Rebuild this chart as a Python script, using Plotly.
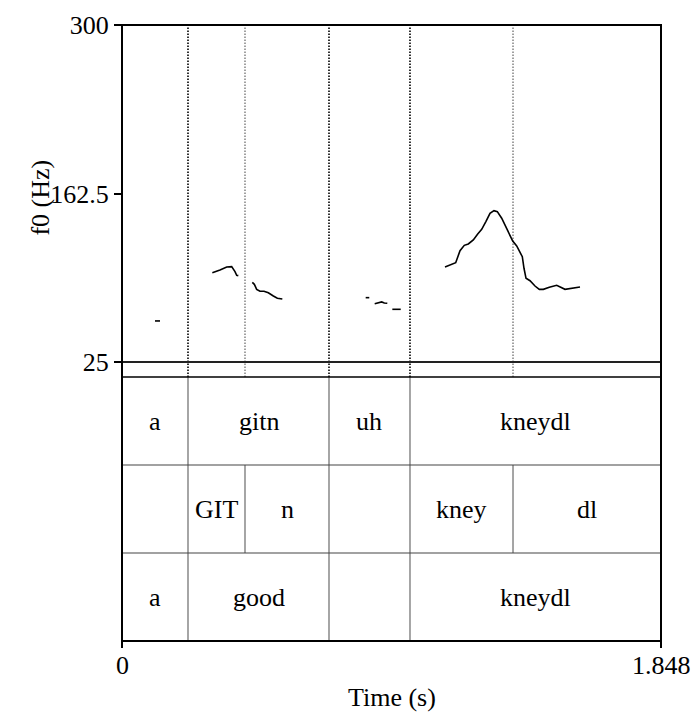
import plotly.graph_objects as go

# ---- data -------------------------------------------------------------
t_start, t_end = 0.0, 1.848
f0_min, f0_max = 25.0, 300.0
f0_ticks = [25, 162.5, 300]
f0_tick_text = ["25", "162.5", "300"]
time_ticks = [0, 1.848]
time_tick_text = ["0", "1.848"]

# pitch contour pieces (time in s, f0 in Hz)
seg1_t = [0.1131, 0.1303]
seg1_f = [58.5, 58.5]
seg2_t = [0.3097, 0.3246, 0.3360, 0.3590, 0.3760, 0.3874, 0.3933, 0.3988]
seg2_f = [97.9, 99.0, 100.0, 102.5, 102.8, 98.7, 95.8, 95.5]
seg3_t = [0.4468, 0.4537, 0.4617, 0.4731, 0.4869, 0.5017, 0.5189, 0.5326, 0.5497]
seg3_f = [90.0, 88.4, 84.3, 82.7, 82.7, 81.5, 78.9, 77.0, 76.4]
seg4_t = [0.8355, 0.8478]
seg4_f = [77.5, 77.5]
seg5_t = [0.8664, 0.8787, 0.8903, 0.8993, 0.9096]
seg5_f = [72.6, 73.1, 74.0, 73.1, 72.9]
seg6_t = [0.9268, 0.9556]
seg6_f = [68.0, 68.0]
seg7_t = [1.1074, 1.1246, 1.1441, 1.1589, 1.1736, 1.1873, 1.2045, 1.2196,
          1.2333, 1.2480, 1.2617, 1.2754, 1.2868, 1.3018, 1.3190, 1.3303,
          1.3396, 1.3533, 1.3646, 1.3725, 1.3783, 1.3852, 1.3989, 1.4160,
          1.4308, 1.4445, 1.4650, 1.4904, 1.5189, 1.5418, 1.5703]
seg7_f = [102.5, 103.9, 106.0, 115.8, 120.2, 121.3, 124.6, 129.5,
          133.3, 139.8, 146.3, 148.5, 147.7, 142.3, 134.1, 128.4,
          123.7, 119.7, 113.7, 110.9, 101.5, 93.3, 91.3, 87.0,
          84.3, 84.3, 86.0, 87.6, 84.3, 85.4, 86.2]

# TextGrid tiers: interval boundaries (s) and labels
tier1_bounds = [0.0, 0.2263, 0.7097, 0.9874, 1.848]
tier1_labels = ["a", "gitn", "uh", "kneydl"]
tier2_bounds = [0.0, 0.2263, 0.4217, 0.7097, 0.9874, 1.3406, 1.848]
tier2_labels = ["", "GIT", "n", "", "kney", "dl"]
tier3_bounds = [0.0, 0.2263, 0.7097, 0.9874, 1.848]
tier3_labels = ["a", "good", "", "kneydl"]

# ---- build ------------------------------------------------------------
W, H = 695, 715
FONT = "Liberation Serif, Times New Roman, DejaVu Serif, serif"
FS = 26

segments = [(seg1_t, seg1_f), (seg2_t, seg2_f), (seg3_t, seg3_f),
            (seg4_t, seg4_f), (seg5_t, seg5_f), (seg6_t, seg6_f),
            (seg7_t, seg7_f)]
px, py = [], []
for ts, fs in segments:
    px += ts + [None]
    py += fs + [None]

fig = go.Figure()
fig.add_trace(go.Scatter(x=px, y=py, mode="lines", connectgaps=False,
                         line=dict(color="black", width=1.6),
                         hoverinfo="skip", showlegend=False))

tiers = [(tier1_bounds, tier1_labels), (tier2_bounds, tier2_labels),
         (tier3_bounds, tier3_labels)]
n_tiers = len(tiers)

shapes = []
annotations = []

# boundary occurrence counts -> darker dotted line where tiers share a boundary
counts = {}
for bounds, _ in tiers:
    for b in bounds[1:-1]:
        counts[b] = counts.get(b, 0) + 1

for b, c in counts.items():
    shapes.append(dict(type="line", xref="x", yref="paper", x0=b, x1=b,
                       y0=0.42857, y1=1,
                       line=dict(color="black" if c > 1 else "#555555",
                                 width=1.6 if c > 1 else 1.1,
                                 dash="1.5px,1.5px"),
                       layer="below"))

for i, (bounds, labels) in enumerate(tiers):
    y_lo = n_tiers - 1 - i
    y_hi = y_lo + 1
    for b in bounds[1:-1]:
        shapes.append(dict(type="line", xref="x", yref="y2", x0=b, x1=b,
                           y0=y_lo, y1=y_hi,
                           line=dict(color="#6a6a6a", width=1.2)))
    for j, lab in enumerate(labels):
        if lab:
            annotations.append(dict(x=(bounds[j] + bounds[j + 1]) / 2,
                                    y=(y_lo + y_hi) / 2, xref="x", yref="y2",
                                    text=lab, showarrow=False,
                                    xanchor="center", yanchor="middle",
                                    font=dict(family=FONT, size=FS, color="black")))
    if i > 0:
        shapes.append(dict(type="line", xref="x domain", yref="y2",
                           x0=0, x1=1, y0=y_hi, y1=y_hi,
                           line=dict(color="#444444", width=1.2)))

# frames
shapes.append(dict(type="line", xref="x domain", yref="y2 domain",
                   x0=0, x1=1, y0=1, y1=1, line=dict(color="black", width=1.5)))
shapes.append(dict(type="line", xref="x domain", yref="y domain",
                   x0=0, x1=1, y0=0, y1=0, line=dict(color="#222222", width=2)))
shapes.append(dict(type="rect", xref="x domain", yref="paper",
                   x0=0, x1=1, y0=0, y1=1, line=dict(color="black", width=2)))

# time tick labels and axis title, placed under the bottom frame
for tv, tt in zip(time_ticks, time_tick_text):
    annotations.append(dict(x=tv, y=0, xref="x", yref="paper", text=tt,
                            showarrow=False, xanchor="center", yanchor="middle",
                            yshift=-24,
                            font=dict(family=FONT, size=FS, color="black")))
annotations.append(dict(x=0.5, y=0, xref="x domain", yref="paper",
                        text="Time (s)", showarrow=False,
                        xanchor="center", yanchor="middle", yshift=-56,
                        font=dict(family=FONT, size=FS, color="black")))

# y title
annotations.append(dict(x=-0.152, y=0.5, xref="x domain", yref="y domain",
                        text="f0 (Hz)", textangle=-90, showarrow=False,
                        xanchor="center", yanchor="middle", yshift=-4,
                        font=dict(family=FONT, size=FS, color="black")))

fig.update_layout(
    width=W, height=H,
    margin=dict(l=122, r=34, t=25, b=74, autoexpand=False),
    paper_bgcolor="white", plot_bgcolor="white",
    font=dict(family=FONT, size=FS, color="black"),
    shapes=shapes, annotations=annotations,
    xaxis=dict(range=[t_start, t_end], anchor="y2", showgrid=False,
               zeroline=False, showline=False, automargin=False,
               tickmode="array", tickvals=time_ticks, showticklabels=False,
               ticks="outside", ticklen=6, tickwidth=1.5, tickcolor="black"),
    yaxis=dict(domain=[0.45292, 1], range=[f0_min, f0_max], showgrid=False,
               zeroline=False, showline=False, automargin=False,
               tickmode="array", tickvals=f0_ticks, ticktext=f0_tick_text,
               ticks="outside", ticklen=7, tickwidth=1.5, tickcolor="black"),
    yaxis2=dict(domain=[0, 0.42857], range=[0, n_tiers], showgrid=False,
                zeroline=False, showline=False, showticklabels=False,
                automargin=False, ticks=""),
)

fig.write_html("out.html")
